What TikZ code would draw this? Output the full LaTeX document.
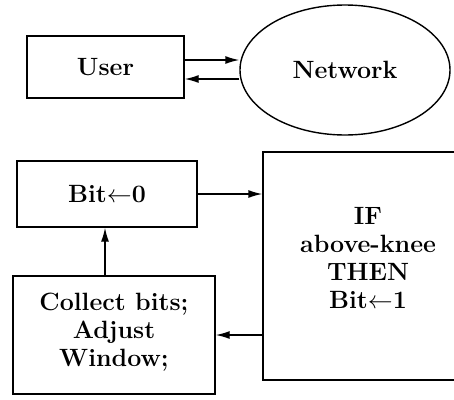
\documentclass[tikz,border=0pt]{standalone}
\usetikzlibrary{shapes.geometric, arrows.meta}

\tikzset{
  block/.style={draw, rectangle, line width=1.4pt, align=center, inner sep=0pt},
  flow/.style={-{Latex[length=14pt, width=8pt]}, line width=1.4pt},
}

\begin{document}
\begin{tikzpicture}[x=1pt, y=-1pt, font=\fontsize{25}{28}\selectfont\bfseries]
  \useasboundingbox (0, 0) rectangle (454, 399);

  % top: user and network
  \node[block, minimum width=157pt, minimum height=62pt] (user) at (105.5, 67) {User};
  \node[draw, ellipse, line width=1.4pt, minimum width=210pt, minimum height=130pt] (net) at (345, 70) {Network};

  \draw[flow] ([yshift=7pt]user.east) -- ([yshift=7pt]user.east -| net.west);
  \draw[flow] ([yshift=-12pt]user.east -| net.west) -- ([yshift=-12pt]user.east);

  % bottom: the loop
  \node[block, minimum width=180pt, minimum height=66pt] (bit) at (107, 194) {Bit$\leftarrow$0};
  \node[block, minimum width=210pt, minimum height=228pt] (cond) at (368, 266)
    {IF\\above-knee\\THEN\\Bit$\leftarrow$1\rule[-16pt]{0pt}{1pt}};
  \node[block, minimum width=202pt, minimum height=118pt] (collect) at (114, 335)
    {Collect bits;\\Adjust\\Window;\rule[-10pt]{0pt}{1pt}};

  \draw[flow] (bit.east) -- (bit.east -| cond.west);
  \draw[flow] (collect.east -| cond.west) -- (collect.east);
  \draw[flow] ([xshift=-9pt]collect.north) -- ([xshift=-9pt]collect.north |- bit.south);
\end{tikzpicture}
\end{document}
